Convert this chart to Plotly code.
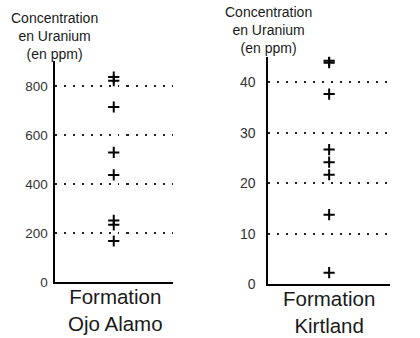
import plotly.graph_objects as go

# Uranium concentration (ppm) measured in each formation
ojo_alamo_ppm = [836, 821, 714, 529, 437, 252, 234, 168]
kirtland_ppm = [44.3, 43.9, 37.7, 26.7, 24.2, 21.7, 13.8, 2.3]

left_ticks = [0, 200, 400, 600, 800]
right_ticks = [0, 10, 20, 30, 40]

axis_title = "Concentration<br>en Uranium<br>(en ppm)"
formation_left = "Formation<br>Ojo Alamo"
formation_right = "Formation<br>Kirtland"

FONT = "Liberation Sans, Arial, sans-serif"
INK = "#1a1a1a"
W, H = 420, 338
V = H * 0.971  # vertical pixel span used to place elements


def px_x(x):
    return x / W


def px_y(t):
    return 1 - t / V


marker = dict(symbol="cross-thin", size=8, color="black",
              line=dict(color="black", width=2))

fig = go.Figure()
fig.add_trace(go.Scatter(x=[0] * len(ojo_alamo_ppm), y=ojo_alamo_ppm,
                         mode="markers", marker=marker,
                         xaxis="x", yaxis="y", showlegend=False))
fig.add_trace(go.Scatter(x=[0] * len(kirtland_ppm), y=kirtland_ppm,
                         mode="markers", marker=marker,
                         xaxis="x2", yaxis="y2", showlegend=False))


def xaxis_style(domain, anchor):
    return dict(domain=domain, anchor=anchor, range=[-1, 1],
                showticklabels=False, showgrid=False, zeroline=False,
                ticks="", showline=True, linecolor="black", linewidth=2,
                fixedrange=True)


def yaxis_style(domain, anchor, rng, ticks, standoff, size):
    return dict(domain=domain, anchor=anchor, range=rng,
                tickmode="array", tickvals=ticks,
                ticks="", ticklabelstandoff=standoff,
                tickfont=dict(family=FONT, size=size, color="#333333"),
                showgrid=True, gridcolor="#222222", gridwidth=1.6,
                griddash="2px,7px", zeroline=False,
                showline=True, linecolor="black", linewidth=2,
                fixedrange=True)


fig.update_layout(
    width=W, height=H,
    margin=dict(l=0, r=0, t=0, b=0),
    paper_bgcolor="white", plot_bgcolor="white",
    font=dict(family=FONT, color=INK),
    xaxis=xaxis_style([px_x(54.5), px_x(173)], "y"),
    yaxis=yaxis_style([px_y(280.7), px_y(60.5)], "x", [0, 902],
                      left_ticks, 2, 13.5),
    xaxis2=xaxis_style([px_x(268.3), px_x(390)], "y2"),
    yaxis2=yaxis_style([px_y(282.7), px_y(56.4)], "x2", [0, 45.1],
                       right_ticks, 8, 14),
)

annotations = [
    dict(text=axis_title, x=px_x(54.5), y=px_y(35.5)),
    dict(text=axis_title, x=px_x(268), y=px_y(29.5)),
]
for a in annotations:
    a.update(xref="paper", yref="paper", xanchor="center", yanchor="middle",
             showarrow=False, align="center",
             font=dict(family=FONT, size=14, color=INK))

labels = [
    dict(text=formation_left, x=px_x(115.5), y=px_y(308)),
    dict(text=formation_right, x=px_x(328.7), y=px_y(310.5)),
]
for a in labels:
    a.update(xref="paper", yref="paper", xanchor="center", yanchor="middle",
             showarrow=False, align="center",
             font=dict(family=FONT, size=20.5, color=INK))

fig.update_layout(annotations=annotations + labels)

fig.write_html("out.html")
